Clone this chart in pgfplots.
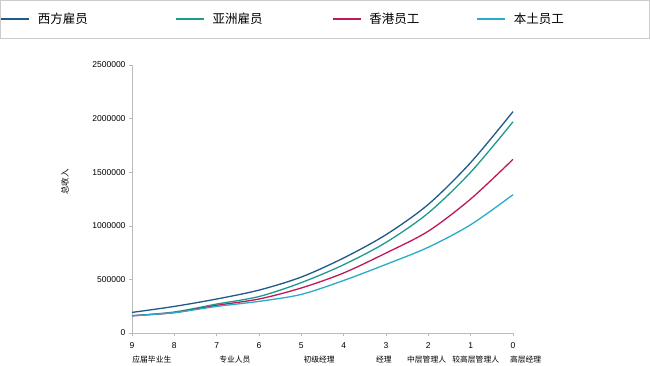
\documentclass[border=0pt]{standalone}
\usepackage{pgfplots}
\pgfplotsset{compat=1.18}
\usepackage{fontspec}
\setmainfont{Liberation Sans}
\newfontfamily\cjk{Noto Sans CJK SC}
\definecolor{cW}{HTML}{1F5A8C}
\definecolor{cA}{HTML}{1E9A8E}
\definecolor{cH}{HTML}{C0195A}
\definecolor{cL}{HTML}{2AACC8}
\definecolor{axgray}{HTML}{BBBBBB}
\pgfplotstableread{
pos western asian hk local
0 192000 161000 161000 161000
1 248000 196000 190000 190000
2 317000 270000 258000 248000
3 400000 340000 317000 295000
4 522000 470000 420000 360000
5 700000 637000 560000 490000
6 917000 845000 746000 640000
7 1200000 1120000 950000 800000
8 1590000 1500000 1250000 1010000
9 2065000 1970000 1620000 1290000
}\datatab
\begin{document}
\begin{tikzpicture}[x=1pt,y=1pt]
\path[use as bounding box] (0,0) rectangle (650,366);
\fill[white] (0,0) rectangle (650,366);
\draw[gray!40, line width=0.8pt] (0.4,328) rectangle (649.6,365.6);
\begin{axis}[
  at={(132pt,33pt)}, anchor=south west,
  scale only axis, width=381pt, height=268pt,
  xmin=0, xmax=9, ymin=0, ymax=2500000,
  xtick={0,...,9}, xticklabels={9,8,7,6,5,4,3,2,1,0},
  ytick={0,500000,1000000,1500000,2000000,2500000},
  scaled y ticks=false,
  yticklabel style={/pgf/number format/fixed, /pgf/number format/1000 sep={}},
  xticklabel style={yshift=-3pt},
  /pgf/number format/assume math mode=true,
  tick label style={font=\fontsize{8.5}{10}\selectfont},
  axis lines=left, axis line style={axgray,-},
  tick style={axgray, thin}, tick align=outside, major tick length=3pt,
  clip=false,
  legend columns=4,
  legend style={draw=none, fill=none, at={(rel axis cs:-0.354,1.1716)}, anchor=west,
    nodes={inner sep=0pt, anchor=west}, font=\cjk\fontsize{12.5}{14}\selectfont},
  legend cell align=left,
  legend image code/.code={\draw[line width=2pt] (0pt,0pt) -- (28pt,0pt); \path (36pt,0pt);},
]
\addplot[cW, line width=1.3pt, smooth] table[x=pos, y=western] {\datatab};
\addlegendentry{\makebox[137pt][l]{西方雇员}}
\addplot[cA, line width=1.3pt, smooth] table[x=pos, y=asian] {\datatab};
\addlegendentry{\makebox[119pt][l]{亚洲雇员}}
\addplot[cH, line width=1.3pt, smooth] table[x=pos, y=hk] {\datatab};
\addlegendentry{\makebox[107pt][l]{香港员工}}
\addplot[cL, line width=1.3pt, smooth] table[x=pos, y=local] {\datatab};
\addlegendentry{\makebox[52pt][l]{本土员工}}
\node[rotate=90, font=\cjk\fontsize{8.5}{10}\selectfont] at (rel axis cs:-0.176,0.563) {总收入};
\begin{scope}[every node/.style={font=\cjk\fontsize{7.8}{9}\selectfont, text height=7pt, text depth=1.5pt, anchor=center, yshift=-27pt}]
\node at (axis cs:0.47,0) {应届毕业生};
\node at (axis cs:2.43,0) {专业人员};
\node at (axis cs:4.42,0) {初级经理};
\node at (axis cs:5.95,0) {经理};
\node at (axis cs:6.96,0) {中层管理人};
\node at (axis cs:8.12,0) {较高层管理人};
\node at (axis cs:9.3,0) {高层经理};
\end{scope}
\end{axis}
\end{tikzpicture}
\end{document}
